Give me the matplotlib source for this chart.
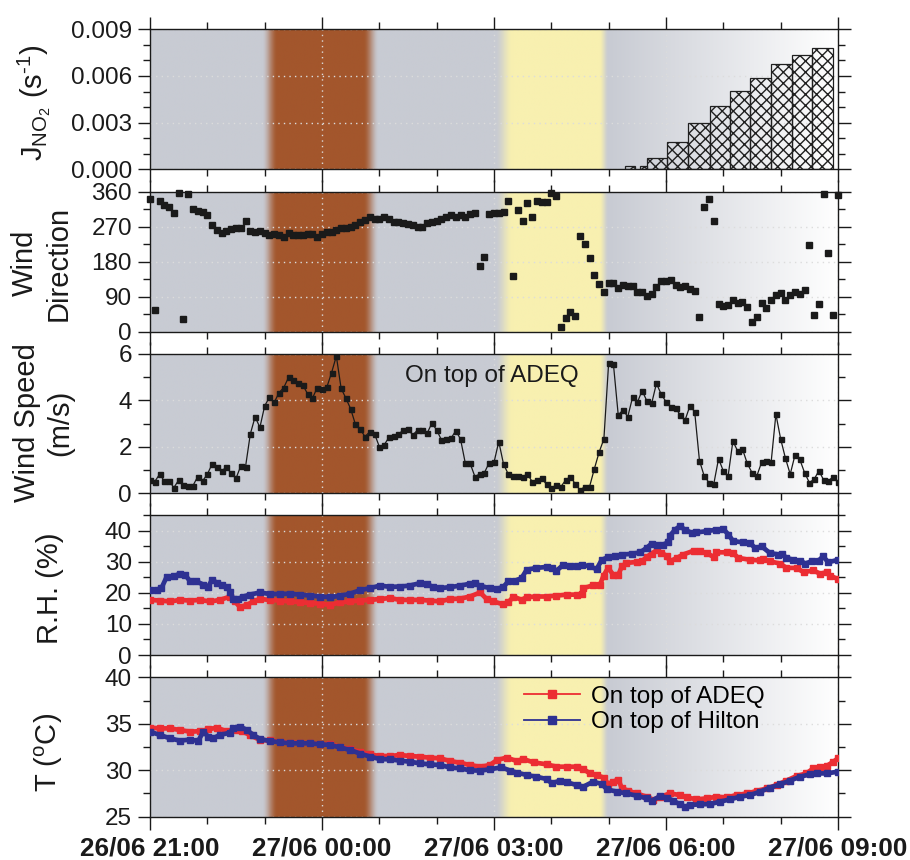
import numpy as np
import matplotlib
matplotlib.use("Agg")
import matplotlib.pyplot as plt
from matplotlib.lines import Line2D
from matplotlib.ticker import MultipleLocator, FormatStrFormatter

plt.rcParams['font.family'] = ['Liberation Sans', 'DejaVu Sans']
plt.rcParams['mathtext.fontset'] = 'custom'
plt.rcParams['mathtext.rm'] = 'Liberation Sans'
plt.rcParams['mathtext.it'] = 'Liberation Sans:italic'
plt.rcParams['hatch.linewidth'] = 1.0

# ---------------- data (x in hours after 26/06 21:00) ----------------
x_ticklabels = ["26/06 21:00", "27/06 00:00", "27/06 03:00", "27/06 06:00", "27/06 09:00"]

# J(NO2) bars
j_left = [8.29, 8.55, 8.66, 9.01, 9.39, 9.76, 10.12, 10.47, 10.83, 11.19, 11.55]
j_right = [8.46, 8.66, 9.01, 9.39, 9.76, 10.12, 10.47, 10.83, 11.19, 11.55, 11.91]
j_no2 = [0.0002, 0.00024, 0.00075, 0.00173, 0.0030, 0.00407, 0.00503, 0.0059, 0.00675, 0.00737, 0.00782]

# wind (5-min data)
wind_dir = [341, 56, 337, 326, 321, 304, 356, 33, 353, 315, 310, 307, 300, 274, 261, 255, 260, 263, 266, 267,
            285, 260, 257, 260, 253, 249, 251, 249, 244, 253, 249, 249, 249, 250, 250, 244, 250, 257, 257, 261,
            266, 267, 270, 274, 281, 287, 294, 290, 289, 296, 289, 283, 283, 279, 276, 274, 268, 270, 279, 281,
            285, 289, 294,
            300, 296, 300, 296, 302, 306, 169, 193, 302, 306, 306, 309, 337, 144, 313, 285, 332, 296, 337, 334,
            334, 356, 349, 11, 34, 50, 40, 246, 225, 189, 146, 122, 103, 124, 124, 113, 119, 117, 117, 102,
            101, 93, 97, 114, 131, 130, 133, 120, 114, 117, 110, 105, 37, 320, 340, 285, 71, 66, 69, 81,
            75, 76, 64, 26, 37, 73, 60, 81, 94, 100, 81, 94, 101, 96, 107, 223, 43, 70, 354, 203, 42, 351]
wind_speed = [0.56, 0.49, 0.81, 0.52, 0.52, 0.23, 0.56, 0.35, 0.32, 0.32, 0.71, 0.52, 0.81, 1.25, 1.14, 0.96,
              1.11, 0.85, 0.63, 1.17, 1.14, 2.55, 3.29, 2.83, 3.76, 4.13, 3.91, 4.33, 4.55, 4.99, 4.88, 4.76,
              4.66, 4.27, 4.09, 4.55, 4.49, 4.56, 5.19, 5.91, 4.52, 4.09, 3.63, 2.96, 2.75, 2.43, 2.65, 2.55,
              2.0, 2.07, 2.40, 2.46, 2.53, 2.72, 2.75, 2.50, 2.72, 2.72, 2.58, 3.01, 2.72, 2.29, 2.33,
              2.36, 2.69, 2.32, 1.28, 1.28, 0.71, 0.82, 0.88, 1.31, 1.32, 2.22, 1.24, 0.81, 0.73, 0.73, 0.71,
              0.81, 0.49, 0.56, 0.63, 0.37, 0.20, 0.35, 0.27, 0.56, 0.71, 0.39, 0.13, 0.27, 0.27, 1.04, 1.76,
              2.33, 5.63, 5.55, 3.37, 3.58, 3.29, 4.13, 3.91, 4.42, 3.97, 3.87, 4.73, 4.26, 3.94, 3.73, 3.65,
              3.37, 3.15, 3.76, 3.51, 1.40, 0.73, 0.45, 0.39, 1.48, 0.95, 0.73, 2.24, 1.81, 1.90, 1.28, 0.88,
              0.73, 1.32, 1.40, 1.32, 3.40, 2.33, 1.50, 0.81, 1.64, 1.45, 0.88, 0.45, 0.59, 0.96, 0.56, 0.52,
              0.71, 0.49]
wind_time = np.arange(len(wind_speed)) * 5 / 60.0

# relative humidity
rh_adeq_t = [0, .17, .35, .52, .70, .87, 1.05, 1.22, 1.40, 1.48, 1.57, 1.69, 1.80, 1.92, 2.09, 2.27, 2.44, 2.62,
             2.79, 2.97, 3.14, 3.31, 3.49, 3.66, 3.84, 4.01, 4.19, 4.36, 4.53, 4.71, 4.88, 5.06, 5.23, 5.41,
             5.58, 5.76, 5.87, 5.99, 6.16, 6.25, 6.34, 6.48, 6.57, 6.74, 6.92, 7.09, 7.27, 7.44, 7.53, 7.56,
             7.73, 7.85, 7.91, 7.99, 8.08, 8.17, 8.23, 8.31, 8.49, 8.58, 8.66, 8.75, 8.84, 8.92, 9.01, 9.07,
             9.19, 9.30, 9.48, 9.59, 9.71, 9.83, 9.88, 10.06, 10.17, 10.26, 10.47, 10.64, 10.70, 10.81, 10.99,
             11.10, 11.28, 11.40, 11.57, 11.69, 11.80, 11.86, 12.0]
rh_adeq = [17.7, 17.5, 17.2, 17.7, 17.5, 17.7, 17.2, 17.7, 18.8, 17.2, 15.4, 16.1, 17.2, 18.0, 17.7, 17.5, 17.2,
           17.0, 16.7, 16.5, 16.1, 16.9, 17.2, 17.5, 17.7, 18.0, 18.3, 17.7, 17.7, 17.7, 17.5, 17.2, 18.0, 18.1,
           18.8, 20.1, 18.0, 17.2, 16.3, 16.9, 18.8, 17.7, 18.6, 18.8, 18.8, 19.1, 19.4, 19.4, 19.6, 21.5,
           22.4, 22.6, 25.5, 28.0, 25.8, 25.8, 28.5, 29.6, 29.9, 30.1, 31.5, 32.6, 33.7, 32.8, 31.9, 30.1,
           31.2, 32.3, 33.5, 33.3, 32.8, 31.5, 33.0, 33.0, 32.8, 31.2, 30.6, 30.4, 30.9, 30.1, 29.4,
           28.0, 28.0, 26.6, 27.2, 26.1, 26.6, 25.5, 24.4]
rh_hilton_t = [0, .12, .20, .29, .41, .52, .61, .70, .81, .93, 1.02, 1.08, 1.16, 1.25, 1.34, 1.40, 1.45, 1.54,
               1.63, 1.74, 1.92, 2.09, 2.27, 2.44, 2.62, 2.79, 2.97, 3.14, 3.31, 3.49, 3.66, 3.84, 4.01, 4.19,
               4.36, 4.53, 4.71, 4.83, 4.94, 5.06, 5.23, 5.41, 5.58, 5.67, 5.76, 5.93, 6.05, 6.16, 6.25, 6.37,
               6.48, 6.57, 6.74, 6.92, 7.01, 7.09, 7.21, 7.33, 7.44, 7.53, 7.67, 7.79, 7.88, 7.99, 8.11, 8.23,
               8.40, 8.55, 8.66, 8.75, 8.84, 8.95, 9.04, 9.07, 9.16, 9.24, 9.33, 9.45, 9.53, 9.71, 9.88, 10.0,
               10.09, 10.17, 10.35, 10.47, 10.55, 10.67, 10.81, 10.96, 11.02, 11.10, 11.22, 11.34, 11.43, 11.54,
               11.66, 11.74, 11.83, 12.0]
rh_hilton = [20.8, 21.0, 21.5, 25.1, 25.3, 26.1, 25.8, 23.7, 23.7, 22.6, 22.0, 24.2, 23.3, 22.6, 21.8, 20.4,
             18.0, 18.0, 18.8, 19.4, 20.1, 19.6, 19.6, 19.7, 19.4, 19.1, 18.8, 18.6, 19.0, 19.7, 20.8, 21.5,
             22.3, 21.9, 22.0, 22.3, 23.1, 22.8, 21.8, 21.5, 21.8, 22.3, 22.9, 23.1, 22.2, 21.5, 21.3, 21.8,
             23.7, 23.9, 24.7, 27.4, 28.0, 28.3, 28.0, 27.1, 29.0, 28.5, 28.5, 29.0, 28.5, 27.6, 30.6, 31.4,
             31.7, 32.3, 32.5, 33.0, 34.4, 35.8, 35.5, 35.5, 36.2, 38.4, 40.3, 41.4, 40.3, 39.2, 39.4, 39.8,
             40.3, 40.5, 38.7, 36.6, 36.2, 36.0, 34.4, 34.9, 32.8, 32.3, 32.6, 31.2, 30.6, 30.3, 29.4, 30.1,
             30.3, 31.7, 29.8, 30.6]

# temperature
t_adeq_t = [0, .17, .35, .52, .70, .87, 1.02, 1.16, 1.34, 1.51, 1.60, 1.74, 1.92, 2.09, 2.27, 2.44, 2.62, 2.79,
            2.97, 3.14, 3.31, 3.49, 3.66, 3.84, 4.01, 4.19, 4.36, 4.53, 4.71, 4.88, 5.06, 5.23, 5.41, 5.58,
            5.76, 5.93, 6.05, 6.22, 6.40, 6.51, 6.69, 6.92, 7.09, 7.27, 7.44, 7.56, 7.67, 7.79, 7.91, 7.99,
            8.08, 8.17, 8.23, 8.34, 8.49, 8.66, 8.78, 8.90, 9.07, 9.24, 9.36, 9.53, 9.71, 9.88, 10.06, 10.23,
            10.41, 10.58, 10.76, 10.93, 11.10, 11.28, 11.45, 11.57, 11.69, 11.80, 11.92, 12.0]
t_adeq = [34.58, 34.5, 34.5, 34.33, 34.15, 34.2, 34.4, 34.58, 34.2, 34.3, 34.2, 33.8, 33.25, 33.2, 33.07, 32.97,
          32.97, 32.9, 32.82, 32.8, 32.53, 32.25, 32.0, 31.7, 31.53, 31.53, 31.64, 31.53, 31.46, 31.35, 31.28,
          31.0, 30.8, 30.56, 30.38, 30.56, 31.1, 31.35, 30.99, 31.2, 30.85, 30.63, 30.38, 30.38, 30.38, 30.13,
          29.66, 29.49, 29.2, 28.52, 28.77, 29.0, 28.05, 27.8, 27.5, 27.15, 26.8, 27.15, 27.5, 27.33, 27.08,
          26.87, 26.97, 27.15, 27.08, 27.33, 27.5, 27.76, 28.05, 28.41, 28.88, 29.38, 29.66, 30.2, 30.31,
          30.45, 30.92, 31.28]
t_hilton_t = [0, .17, .35, .52, .70, .84, .93, 1.02, 1.10, 1.22, 1.40, 1.45, 1.57, 1.69, 1.80, 1.92, 2.09, 2.27,
              2.44, 2.62, 2.79, 2.97, 3.14, 3.31, 3.49, 3.66, 3.84, 4.01, 4.19, 4.36, 4.53, 4.71, 4.88, 5.06,
              5.23, 5.41, 5.58, 5.76, 5.93, 6.13, 6.28, 6.40, 6.57, 6.74, 6.92, 7.01, 7.15, 7.27, 7.44, 7.56,
              7.73, 7.88, 7.97, 8.14, 8.31, 8.49, 8.66, 8.75, 8.90, 9.01, 9.13, 9.24, 9.33, 9.42, 9.59, 9.77,
              9.94, 10.12, 10.29, 10.47, 10.64, 10.81, 10.99, 11.16, 11.34, 11.51, 11.63, 11.80, 12.0]
t_hilton = [34.15, 33.8, 33.43, 33.18, 33.3, 33.14, 34.15, 33.6, 33.43, 33.8, 34.04, 34.58, 34.7, 34.33, 33.8,
            33.36, 33.14, 33.0, 32.9, 32.9, 32.9, 32.79, 32.72, 32.46, 32.18, 31.8, 31.46, 31.2, 31.17, 31.03,
            30.92, 30.74, 30.63, 30.56, 30.3, 30.2, 29.99, 29.96, 30.1, 30.31, 29.96, 29.74, 29.49, 29.3, 29.05,
            28.59, 28.88, 28.7, 28.41, 28.23, 28.77, 28.52, 27.94, 27.7, 27.5, 27.26, 26.97, 26.72, 27.22,
            27.05, 26.72, 26.33, 26.08, 26.26, 26.33, 26.36, 26.61, 26.87, 27.15, 27.33, 27.69, 28.12, 28.48,
            28.88, 29.3, 29.56, 29.66, 29.66, 29.84]

series_labels = ["On top of ADEQ", "On top of Hilton"]

# ---------------- style ----------------
RED = '#EC2D33'
BLUE = '#2E3192'
GREY = np.array([200, 203, 211]) / 255.0
BROWN = np.array([163, 86, 44]) / 255.0
YELLOW = np.array([248, 240, 176]) / 255.0
W, H = 910, 860


def smooth(h, a, b):
    t = np.clip((h - a) / (b - a), 0, 1)
    return t * t * (3 - 2 * t)


def background(ax, ylo, yhi):
    h = np.linspace(0, 12, 1200)
    t = np.clip((h - 8.0) / 4.0, 0, 1)[:, None]
    col = GREY * (1 - t) + np.ones(3) * t
    ab = (smooth(h, 1.95, 2.22) * (1 - smooth(h, 3.72, 3.99)))[:, None]
    col = col * (1 - ab) + BROWN * ab
    ay = (smooth(h, 6.02, 6.33) * (1 - smooth(h, 7.84, 8.0)))[:, None]
    col = col * (1 - ay) + YELLOW * ay
    img = np.repeat(col[None, :, :], 2, axis=0)
    ax.imshow(img, extent=[0, 12, ylo, yhi], aspect='auto', origin='lower',
              interpolation='bilinear', zorder=0)


fig = plt.figure(figsize=(W / 100, H / 100), dpi=100)

left = 150 / W
width = 688 / W
panel_px = [(29.3, 169.3), (191.7, 331.7), (354, 493), (515, 655), (677.3, 816.7)]
axes = []
for top, bot in panel_px:
    ax = fig.add_axes([left, 1 - bot / H, width, (bot - top) / H])
    axes.append(ax)

ylims = [(0, 0.009), (0, 360), (0, 6), (0, 45), (25, 40)]
majors = [0.003, 90, 2, 10, 5]
minors = [0.001, 45, 1, 5, 2.5]

for ax, (ylo, yhi), mj, mn in zip(axes, ylims, majors, minors):
    background(ax, ylo, yhi)
    ax.set_xlim(0, 12)
    ax.set_ylim(ylo, yhi)
    ax.xaxis.set_major_locator(MultipleLocator(3))
    ax.xaxis.set_minor_locator(MultipleLocator(1))
    ax.yaxis.set_major_locator(MultipleLocator(mj))
    ax.yaxis.set_minor_locator(MultipleLocator(mn))
    ax.tick_params(which='both', direction='out', top=True, right=True, width=1.0,
                   labelsize=17.5, pad=4, colors='#1a1a1a')
    ax.tick_params(which='major', length=9)
    ax.tick_params(which='minor', length=5)
    ax.tick_params(axis='x', which='major', labelsize=18.8, pad=5)
    ax.grid(True, which='major', linestyle=(0, (1, 3)), color='#dcdcdc', linewidth=1.0)
    for s in ax.spines.values():
        s.set_linewidth(1.0)
        s.set_color('#1a1a1a')
    if ax is not axes[-1]:
        ax.tick_params(axis='x', labelbottom=False)

# Panel 1: J(NO2)
ax = axes[0]
ax.bar(j_left, j_no2, width=np.array(j_right) - np.array(j_left), align='edge',
       facecolor='none', edgecolor='#202020', hatch='xxx', linewidth=0.9, zorder=3)
ax.yaxis.set_major_formatter(FormatStrFormatter('%.3f'))

# Panel 2: wind direction
axes[1].plot(wind_time, wind_dir, linestyle='none', marker='s', markersize=3.8,
             color='#1a1a1a', zorder=3, clip_on=False)

# Panel 3: wind speed
axes[2].plot(wind_time, wind_speed, '-', color='#1a1a1a', linewidth=0.9, marker='s',
             markersize=3.6, zorder=3)
axes[2].text((405 - 150) / 688, (493 - 376) / 139, "On top of ADEQ", transform=axes[2].transAxes,
             ha='left', va='center', fontsize=17.5, color='#1a1a1a')

# Panel 4: RH
axes[3].plot(rh_adeq_t, rh_adeq, '-', color=RED, linewidth=3.4, marker='s', markersize=4, zorder=3)
axes[3].plot(rh_hilton_t, rh_hilton, '-', color=BLUE, linewidth=3.4, marker='s', markersize=4, zorder=3)

# Panel 5: T
axes[4].plot(t_adeq_t, t_adeq, '-', color=RED, linewidth=3.4, marker='s', markersize=4, zorder=3)
axes[4].plot(t_hilton_t, t_hilton, '-', color=BLUE, linewidth=3.4, marker='s', markersize=4, zorder=3)
axes[4].set_xticks([0, 3, 6, 9, 12])
axes[4].set_xticklabels(x_ticklabels, fontweight='bold')

handles = [Line2D([0], [0], color=RED, lw=1.3, marker='s', markersize=6),
           Line2D([0], [0], color=BLUE, lw=1.3, marker='s', markersize=6)]
axes[4].legend(handles, series_labels, loc='upper left',
               bbox_to_anchor=((524 - 150) / 688, (817 - 686) / 139.4),
               frameon=False, fontsize=17.5, handlelength=2.3, handletextpad=0.45,
               borderpad=0, borderaxespad=0, labelspacing=0.15, numpoints=1)

# y-labels
def ylab(x, y, s):
    fig.text(x / W, 1 - y / H, s, rotation=90, ha='center', va='center', fontsize=21,
             color='#1a1a1a', linespacing=1.25, multialignment='center')

ylab(34, 103, r"J$_{\mathrm{NO_2}}$ (s$^{\text{-1}}$)")
ylab(42, 263, "Wind\nDirection")
ylab(44, 423, "Wind Speed\n(m/s)")
ylab(50, 588, "R.H. (%)")
ylab(49, 752, r"T ($^{\mathrm{o}}$C)")

fig.savefig("out.png", dpi=100)
